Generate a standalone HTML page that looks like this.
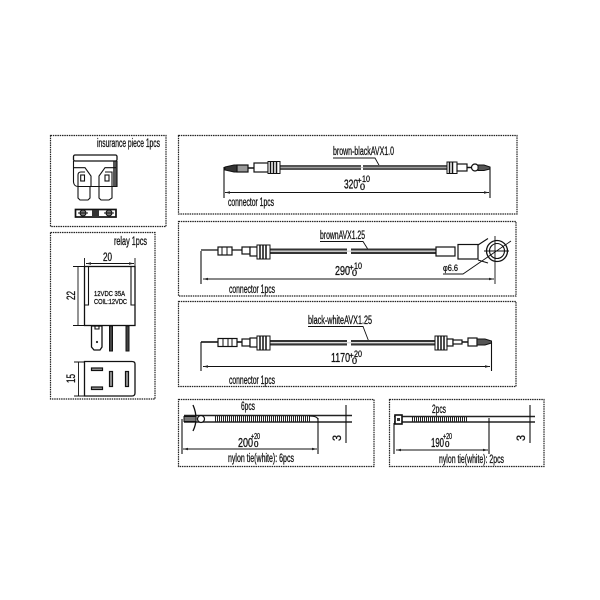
<!DOCTYPE html>
<html><head><meta charset="utf-8"><style>
html,body{margin:0;padding:0;background:#fff}
svg{display:block}
text{font-family:"Liberation Sans",sans-serif;fill:#111;stroke:#111;stroke-width:.3;font-weight:400}
.l{font-size:11.500px}
.d{fill:none;stroke:#222;stroke-width:1.200;stroke-dasharray:1.500 .8}
.s{fill:none;stroke:#111;stroke-width:1.100}
.w{fill:#fff;stroke:#111;stroke-width:1.200}
.k{fill:none;stroke:#111;stroke-width:.9}
.r{fill:#999;stroke:#111;stroke-width:1.200}
.b{fill:none;stroke:#222;stroke-width:1.500}
</style></head><body>
<svg width="600" height="600" viewBox="0 0 600 600" xmlns="http://www.w3.org/2000/svg">
<rect width="600" height="600" fill="#fff"/>
<g class="d">
<rect x="50.500" y="135.500" width="115.500" height="91"/>
<rect x="50.500" y="232.500" width="104.500" height="166.500"/>
<rect x="178.500" y="135.500" width="338.500" height="78.500"/>
<rect x="178.500" y="221.500" width="337.500" height="74.500"/>
<rect x="178.500" y="301.500" width="337.500" height="85"/>
<rect x="178.500" y="399.500" width="195.500" height="67"/>
<rect x="389.500" y="399.500" width="154.500" height="67"/>
</g>

<!-- fuse -->
<text class="l" x="97" y="147" textLength="63" lengthAdjust="spacingAndGlyphs">insurance piece 1pcs</text>
<path d="M113 161H117V186H113Z" fill="#555"/>
<rect x="73.500" y="155" width="43.500" height="6" rx="1.500" fill="#fff" stroke="#111" stroke-width="1.300"/>
<path class="s" d="M73.500 161V182Q74 186.500 78 186.500H112M117 161V186.500H112M74 167.700H85L91 176V187M116 167.700H105L99 176V187"/>
<path class="s" d="M78 186V175Q78 172 81 172H85M112 186V172H105"/>
<rect class="s" x="80.700" y="175" width="3.800" height="6"/>
<rect class="s" x="105" y="175" width="4" height="6"/>
<path class="s" d="M78 187V198L80 200H88L90 198V187M99 187V198L101 200H109L112 198V187"/>
<rect x="75.500" y="209.500" width="40.500" height="7.500" fill="#fff" stroke="#111" stroke-width="1.700"/>
<circle cx="83" cy="213" r="3" fill="#777" stroke="#111"/><circle cx="109" cy="213" r="3" fill="#777" stroke="#111"/>
<path d="M92 210h7v6h-7z" fill="#333"/>
<path d="M78 213h10M104 213h10" stroke="#111"/>

<!-- relay -->
<text class="l" x="114" y="245" textLength="33" lengthAdjust="spacingAndGlyphs">relay 1pcs</text>
<rect x="84.500" y="266.500" width="50.500" height="59" fill="#fff" stroke="#111" stroke-width="1.300"/>
<path class="s" d="M84 305H88.500V266M135 305H131V266"/>
<path class="k" d="M84.500 258V266M135 258V266M86 263.500H134"/>
<path d="M86 263.500l5-1.200v2.400zM134 263.500l-5-1.200v2.400z" fill="#222"/>
<path class="k" d="M73 266.500H84M73 325.500H84M78 267V325"/>
<text x="103" y="261" font-size="12" textLength="9" lengthAdjust="spacingAndGlyphs">20</text>
<text transform="translate(75 300) rotate(-90)" font-size="12" textLength="9" lengthAdjust="spacingAndGlyphs">22</text>
<text x="94" y="296" font-size="7.500" textLength="31" lengthAdjust="spacingAndGlyphs">12VDC 35A</text>
<text x="94" y="304" font-size="7.500" textLength="33" lengthAdjust="spacingAndGlyphs">COIL:12VDC</text>
<path d="M91.500 326H102V347L100 350H94L91.500 347Z" fill="#fff" stroke="#111" stroke-width="1.300"/>
<path class="s" d="M95 326V329H99V326"/>
<circle cx="97" cy="342" r="1.100" fill="#222"/>
<rect x="109.500" y="326" width="3" height="25" fill="#444" stroke="#111"/>
<rect x="126" y="326" width="3" height="25" fill="#444" stroke="#111"/>
<path d="M84.500 361.500H132Q135 361.500 135 364V393Q135 396 132 396H84.500Z" fill="#fff" stroke="#111" stroke-width="1.300"/>
<path class="k" d="M74 362H84M74 396H84M78.500 362V396"/>
<text transform="translate(75 383) rotate(-90)" font-size="12" textLength="9" lengthAdjust="spacingAndGlyphs">15</text>
<g class="r">
<rect x="91.500" y="368" width="11" height="2.500"/>
<rect x="91.500" y="387" width="11" height="2.500"/>
<rect x="109.500" y="371.500" width="3" height="15"/>
<rect x="125.500" y="371.500" width="3" height="15"/>
</g>

<!-- connector 1 -->
<text class="l" x="333" y="155" textLength="61" lengthAdjust="spacingAndGlyphs">brown-blackAVX1.0</text>
<path class="k" d="M333 158H375L380 167"/>
<path d="M280 165H361V170H280ZM363 165H447V170H363Z" fill="#555"/>
<path d="M280 167.500H447" stroke="#bbb" stroke-width=".8"/>
<g>
<path d="M225 167L234 165H237V172H234L225 170Z" fill="#333" stroke="#111"/>
<rect class="r" x="237" y="165" width="11" height="7"/>
<path d="M248 168H254" stroke="#111" stroke-width="1.500"/>
<rect class="w" x="254" y="163" width="14" height="9"/>
<rect x="268" y="161.500" width="12" height="12" fill="#fff" stroke="#111"/>
<path d="M270.500 161.500V173.500M273.500 161.500V173.500M276.500 161.500V173.500" stroke="#111" stroke-width="1.500"/>
<rect x="447" y="162" width="10" height="11.500" fill="#fff" stroke="#111"/>
<path d="M449.500 162V173.500M452.500 162V173.500" stroke="#111" stroke-width="1.500"/>
<rect class="w" x="457" y="164" width="10" height="7"/>
<path d="M467 167.500H472" stroke="#111" stroke-width="1.500"/>
<circle class="w" cx="475" cy="167.500" r="3.500"/>
<path d="M478 165H484L490 167V169L484 170.500H478Z" fill="#555" stroke="#111"/>
</g>
<path class="s" d="M224 167V198M490 167V198"/>
<path class="k" d="M225 192.500H489"/>
<path d="M225 192.500l5-1.200v2.400zM489 192.500l-5-1.200v2.400z" fill="#222"/>
<text x="344" y="188.500" font-size="13" textLength="14" lengthAdjust="spacingAndGlyphs">320</text>
<text x="357" y="183" font-size="8">+</text><text x="362" y="182" font-size="9" textLength="8" lengthAdjust="spacingAndGlyphs">10</text><text x="360" y="190" font-size="9">0</text>
<text class="l" x="228" y="206" textLength="46" lengthAdjust="spacingAndGlyphs">connector 1pcs</text>

<!-- connector 2 -->
<text class="l" x="320" y="239" textLength="45" lengthAdjust="spacingAndGlyphs">brownAVX1.25</text>
<path class="k" d="M320 241.500H363L369 251"/>
<path d="M270 248.500H347V254H270ZM351 248.500H436V254H351Z" fill="#333"/>
<path d="M270 251.200H436" stroke="#ddd" stroke-width="1.300"/>
<g>
<path d="M201 250H218M232 250H242" stroke="#111" stroke-width="1.200"/>
<rect class="w" x="218" y="247" width="14" height="8"/>
<path d="M222 247V255M227 247V255" stroke="#111"/>
<rect class="w" x="242" y="247" width="8" height="7"/>
<rect class="w" x="250" y="247" width="7" height="9"/>
<rect x="257" y="245" width="13" height="14" fill="#fff" stroke="#111"/>
<path d="M260 245V259M263 245V259M266 245V259" stroke="#111" stroke-width="1.500"/>
<rect class="w" x="436" y="247" width="19" height="9" stroke-width="1.500"/>
<rect class="w" x="458" y="244.500" width="20" height="14.500"/>
<path class="s" d="M478 245L488 238.500M478 260L488 263"/>
<circle cx="497" cy="251" r="10.500" fill="#fff" stroke="#111" stroke-width="1.300"/>
<circle cx="497" cy="251" r="7.500" fill="none" stroke="#111" stroke-width="1.100"/>
</g>
<path class="k" d="M495 236V284M484 251H509M443 274H463L511 241"/>
<path class="s" d="M201 251V284"/>
<path class="k" d="M203 279H494"/>
<path d="M203 279l5-1.200v2.400zM494 279l-5-1.200v2.400z" fill="#222"/>
<text x="443" y="271" font-size="9.500" textLength="15" lengthAdjust="spacingAndGlyphs">φ6.6</text>
<text x="335" y="275" font-size="13" textLength="15" lengthAdjust="spacingAndGlyphs">290</text>
<text x="349" y="270" font-size="8">+</text><text x="354" y="269" font-size="9" textLength="8" lengthAdjust="spacingAndGlyphs">10</text><text x="352" y="276" font-size="9">0</text>
<text class="l" x="229" y="293" textLength="46" lengthAdjust="spacingAndGlyphs">connector 1pcs</text>

<!-- connector 3 -->
<text class="l" x="308" y="324" textLength="64" lengthAdjust="spacingAndGlyphs">black-whiteAVX1.25</text>
<path class="k" d="M308 326.500H363L369 342"/>
<path d="M270 340H347V345.500H270ZM351 340H435V345.500H351Z" fill="#333"/>
<path d="M270 342.700H435" stroke="#ddd" stroke-width="1.300"/>
<g>
<path d="M201 342H218M237 342H242" stroke="#444" stroke-width="2"/>
<rect class="w" x="218" y="338.500" width="19" height="8"/>
<path d="M223 338.500V346.500M228 338.500V346.500M232 338.500V346.500" stroke="#111"/>
<rect class="w" x="242" y="339" width="8" height="7"/>
<rect class="w" x="250" y="338" width="7" height="9"/>
<rect x="257" y="336" width="13" height="14" fill="#fff" stroke="#111"/>
<path d="M260 336V350M263 336V350M266 336V350" stroke="#111" stroke-width="1.500"/>
<rect x="435" y="336" width="12" height="14" fill="#fff" stroke="#111"/>
<path d="M438 336V350M441 336V350M444 336V350" stroke="#111" stroke-width="1.500"/>
<rect class="w" x="447" y="339" width="6" height="7"/>
<rect class="w" x="453" y="340" width="9" height="4"/>
<path d="M462 342H468" stroke="#111" stroke-width="1.500"/>
<rect class="w" x="468" y="338" width="9" height="8"/>
<path d="M477 339H485L491.500 341V343L485 345H477Z" fill="#555" stroke="#111"/>
</g>
<path class="s" d="M201 342V371M491.500 342V371"/>
<path class="k" d="M203 366.500H490"/>
<path d="M203 366.500l5-1.200v2.400zM490 366.500l-5-1.200v2.400z" fill="#222"/>
<text x="331" y="362" font-size="13" textLength="19" lengthAdjust="spacingAndGlyphs">1170</text>
<text x="349" y="358" font-size="8">+</text><text x="354" y="357" font-size="9" textLength="8" lengthAdjust="spacingAndGlyphs">20</text><text x="352" y="364" font-size="9">0</text>
<text class="l" x="229" y="384" textLength="46" lengthAdjust="spacingAndGlyphs">connector 1pcs</text>

<!-- tie 1 -->
<text x="241" y="410" font-size="11.500" textLength="14" lengthAdjust="spacingAndGlyphs">6pcs</text>
<path d="M184 415.500H352M184 422H352" class="b"/>
<path d="M193 405Q199 419 193 431" fill="none" stroke="#111" stroke-width="1.300"/>
<path d="M184 416.500H196V421.500H184Z" fill="#777" stroke="#111"/>
<circle cx="201" cy="419" r="3.500" fill="#fff" stroke="#111" stroke-width="1.200"/>
<path d="M215 419H310" stroke-width="6" stroke="#222" stroke-dasharray="1 1" fill="none"/>
<path class="s" d="M182 419V454M318 418V454M346 405V443"/>
<path class="s" d="M309 416Q318 416 318 420"/>
<path class="k" d="M183 449H317"/>
<path d="M183 449l5-1.200v2.400zM317 449l-5-1.200v2.400z" fill="#222"/>
<text x="238" y="447" font-size="13" textLength="15" lengthAdjust="spacingAndGlyphs">200</text>
<text x="251" y="439" font-size="8" textLength="9" lengthAdjust="spacingAndGlyphs">+20</text><text x="254" y="447" font-size="8">0</text>
<text transform="translate(341 441) rotate(-90)" font-size="12" textLength="6" lengthAdjust="spacingAndGlyphs">3</text>
<text class="l" x="228" y="462" textLength="66" lengthAdjust="spacingAndGlyphs">nylon tie(white): 6pcs</text>

<!-- tie 2 -->
<text x="432" y="413" font-size="11.500" textLength="14" lengthAdjust="spacingAndGlyphs">2pcs</text>
<path d="M394 416.500H535M394 422H535" class="b"/>
<rect x="395" y="415" width="7" height="9" fill="#fff" stroke="#111" stroke-width="1.600"/>
<rect x="397" y="418" width="3" height="3" fill="#333"/>
<path d="M412 419.300H467" stroke-width="5" stroke="#222" stroke-dasharray="1 1" fill="none"/>
<path class="s" d="M394 423V454M489 418V454M530 405V443"/>
<path class="k" d="M396 450H488"/>
<path d="M396 450l5-1.200v2.400zM488 450l-5-1.200v2.400z" fill="#222"/>
<text x="431" y="447" font-size="13" textLength="13" lengthAdjust="spacingAndGlyphs">190</text>
<text x="443" y="439" font-size="8" textLength="9" lengthAdjust="spacingAndGlyphs">+20</text><text x="445" y="447" font-size="8">0</text>
<text transform="translate(525 441) rotate(-90)" font-size="12" textLength="6" lengthAdjust="spacingAndGlyphs">3</text>
<text class="l" x="439" y="463" textLength="65" lengthAdjust="spacingAndGlyphs">nylon tie(white): 2pcs</text>
</svg>
</body></html>
